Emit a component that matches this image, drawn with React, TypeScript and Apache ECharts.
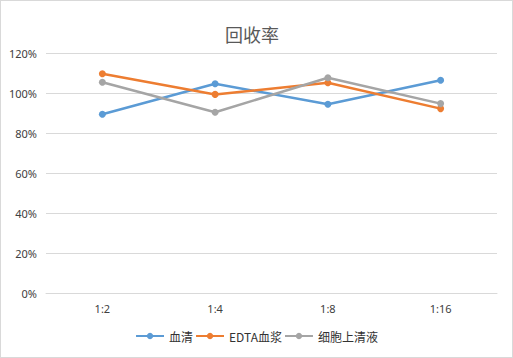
import React, { useEffect, useRef } from "react";
import * as echarts from "echarts";

const categories = ["1:2", "1:4", "1:8", "1:16"];
const serum = [89.4, 104.6, 94.4, 106.4];
const edtaPlasma = [109.6, 99.3, 105.1, 92.2];
const cellSupernatant = [105.4, 90.4, 107.6, 94.7];
const seriesNames = ["血清", "EDTA血浆", "细胞上清液"];
const colors = ["#5B9BD5", "#ED7D31", "#A5A5A5"];

export default function App() {
  const ref = useRef<HTMLDivElement>(null);
  useEffect(() => {
    if (!ref.current) return;
    const chart = echarts.init(ref.current, undefined, { renderer: "svg" });
    const mk = (name: string, data: number[], color: string) => ({
      name,
      type: "line",
      data,
      symbol: "circle",
      symbolSize: 7,
      lineStyle: { width: 2.5, color },
      itemStyle: { color },
    });
    chart.setOption({
      animation: false,
      backgroundColor: "#fff",
      title: {
        text: "回收率",
        left: 219,
        top: 19,
        textStyle: {
          fontFamily: "Noto Sans CJK SC",
          fontWeight: "normal",
          fontSize: 18,
          color: "#595959",
        },
      },
      legend: {
        bottom: 10,
        left: "center",
        itemWidth: 28,
        itemHeight: 8,
        itemGap: 2,
        textStyle: { fontFamily: "Noto Sans CJK SC", fontSize: 12, color: "#333333" },
        data: seriesNames,
      },
      grid: { left: 45, right: 15, top: 52, bottom: 64, containLabel: false },
      xAxis: {
        type: "category",
        data: categories,
        boundaryGap: true,
        axisLine: { lineStyle: { color: "#d9d9d9" } },
        axisTick: { show: false },
        axisLabel: { color: "#404040", fontSize: 11, margin: 10, fontFamily: "Noto Sans" },
      },
      yAxis: {
        type: "value",
        min: 0,
        max: 120,
        interval: 20,
        axisLine: { show: false },
        axisTick: { show: false },
        splitLine: { lineStyle: { color: "#d9d9d9" } },
        axisLabel: {
          color: "#404040",
          fontSize: 11,
          margin: 9,
          fontFamily: "Noto Sans",
          formatter: "{value}%",
        },
      },
      series: [
        mk(seriesNames[0], serum, colors[0]),
        mk(seriesNames[1], edtaPlasma, colors[1]),
        mk(seriesNames[2], cellSupernatant, colors[2]),
      ],
    });
    return () => chart.dispose();
  }, []);
  return (
    <div
      ref={ref}
      style={{
        position: "fixed",
        left: 0,
        top: 0,
        width: 513,
        height: 358,
        border: "1px solid #d9d9d9",
        boxSizing: "border-box",
      }}
    />
  );
}
